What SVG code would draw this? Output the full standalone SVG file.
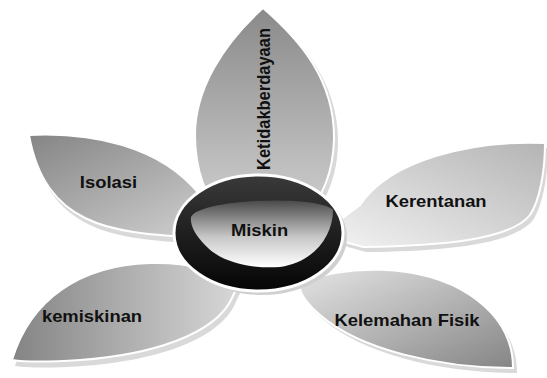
<svg xmlns="http://www.w3.org/2000/svg" width="547" height="378" viewBox="0 0 547 378">
<style>
.lbl{font-family:"Liberation Sans",Arial,sans-serif;font-weight:bold;font-size:16px;fill:#111;text-anchor:middle}
.pet{stroke:#fff;stroke-width:2}
.sh{fill:#d9d9d9}
</style>
<defs>
<linearGradient id="gTop" x1="0" y1="0" x2="0" y2="1"><stop offset="0" stop-color="#8a8a8a"/><stop offset="1" stop-color="#d2d2d2"/></linearGradient>
<linearGradient id="gIso" x1="0" y1="0" x2="1" y2="1"><stop offset="0" stop-color="#858585"/><stop offset="1" stop-color="#d6d6d6"/></linearGradient>
<linearGradient id="gKer" x1="1" y1="0" x2="0" y2="1"><stop offset="0" stop-color="#b4b4b4"/><stop offset="1" stop-color="#f4f4f4"/></linearGradient>
<linearGradient id="gKel" x1="0" y1="0" x2="1" y2="1"><stop offset="0" stop-color="#ececec"/><stop offset="1" stop-color="#858585"/></linearGradient>
<linearGradient id="gKem" x1="0" y1="0" x2="1" y2="0"><stop offset="0" stop-color="#848484"/><stop offset="1" stop-color="#dadada"/></linearGradient>
<linearGradient id="gRing" x1="0" y1="0" x2="0" y2="1"><stop offset="0" stop-color="#3a3a3a"/><stop offset="1" stop-color="#050505"/></linearGradient>
<linearGradient id="gHi" x1="0" y1="0" x2="0" y2="1"><stop offset="0" stop-color="#4a4a4a"/><stop offset="0.55" stop-color="#c8c8c8"/><stop offset="1" stop-color="#ffffff"/></linearGradient>
<path id="pTop" d="M263,8 C300,40 335,80 334,140 C333,170 325,195 300,225 L225,225 C205,195 195,170 195,135 C195,90 222,45 263,8 Z"/>
<path id="pIso" d="M29,135 C90,132 160,145 200,195 L240,228 L190,237 C110,233 45,225 29,135 Z"/>
<path id="pKer" d="M545,143 C470,140 390,160 360,205 L320,235 L363,247 C440,246 510,240 530,215 C540,200 545,170 545,143 Z"/>
<path id="pKel" d="M513,368 C440,368 360,350 320,315 C305,302 298,292 300,283 L280,262 L300,283 C340,265 420,262 470,295 C500,315 513,340 513,368 Z"/>
<path id="pKem" d="M12,360 C30,300 80,265 150,263 C190,262 215,270 230,285 L245,270 L232,298 C215,335 150,355 80,360 C50,362 25,362 12,360 Z"/>
</defs>
<rect width="547" height="378" fill="#fff"/>
<g id="connectors"/>
<g id="node-isolasi">
<use href="#pIso" class="sh" transform="translate(3,6)"/>
<use href="#pIso" class="pet" fill="url(#gIso)"/>
<text class="lbl" transform="translate(108.5,188) scale(1.15,1)">Isolasi</text>
</g>
<g id="node-kerentanan">
<use href="#pKer" class="sh" transform="translate(3,5)"/>
<use href="#pKer" class="pet" fill="url(#gKer)"/>
<text class="lbl" transform="translate(436,207) scale(1.15,1)">Kerentanan</text>
</g>
<g id="node-kelemahan">
<use href="#pKel" class="sh" transform="translate(4,5)"/>
<use href="#pKel" class="pet" fill="url(#gKel)"/>
<text class="lbl" transform="translate(407,326) scale(1.15,1)">Kelemahan Fisik</text>
</g>
<g id="node-kemiskinan">
<use href="#pKem" class="sh" transform="translate(3,6)"/>
<use href="#pKem" class="pet" fill="url(#gKem)"/>
<text class="lbl" transform="translate(92,322) scale(1.15,1)">kemiskinan</text>
</g>
<g id="node-ketidakberdayaan">
<use href="#pTop" class="sh" transform="translate(4,4)"/>
<use href="#pTop" class="pet" fill="url(#gTop)"/>
<text class="lbl" style="font-size:16.5px" transform="translate(270,99) scale(1.15,1) rotate(-90)">Ketidakberdayaan</text>
</g>
<g id="node-miskin">
<ellipse cx="262" cy="237" rx="85" ry="58" fill="#d0d0d0"/>
<ellipse cx="258.5" cy="233" rx="84.5" ry="58" fill="url(#gRing)" stroke="#fff" stroke-width="3"/>
<path d="M191,217 C200,198 320,195 333,210 C333,235 315,262 280,267 C250,269 220,262 205,245 C195,235 190,225 191,217 Z" fill="url(#gHi)"/>
<text class="lbl" transform="translate(259.5,236) scale(1.15,1)">Miskin</text>
</g>
</svg>
